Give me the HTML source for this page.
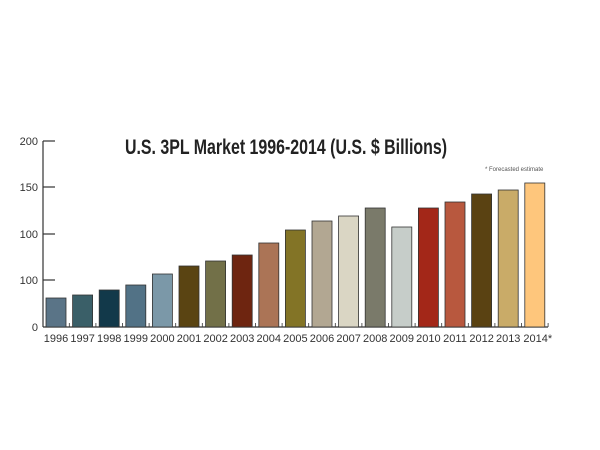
<!DOCTYPE html>
<html><head><style>body{margin:0;background:#fff}svg{display:block}</style></head><body>
<svg width="600" height="450" xmlns="http://www.w3.org/2000/svg" font-family="'Liberation Sans Narrow','Liberation Sans',sans-serif">
<text x="286" y="154" text-anchor="middle" font-size="21" font-weight="bold" fill="#222" textLength="322" lengthAdjust="spacingAndGlyphs">U.S. 3PL Market 1996-2014 (U.S. $ Billions)</text>
<text x="485" y="171" font-size="6" fill="#555">* Forecasted estimate</text>
<g stroke="#333" stroke-width="1.2">
<line x1="43" y1="141" x2="43" y2="327"/>
<line x1="43" y1="327" x2="548" y2="327"/>
<line x1="43" y1="141" x2="55" y2="141"/>
<line x1="43" y1="187" x2="55" y2="187"/>
<line x1="43" y1="234" x2="55" y2="234"/>
<line x1="43" y1="280" x2="55" y2="280"/>
</g>
<g font-size="11" fill="#333" text-anchor="end">
<text x="38" y="145">200</text><text x="38" y="191">150</text><text x="38" y="238">100</text><text x="38" y="284">100</text><text x="38" y="331">0</text>
</g>
<g stroke="#333" stroke-width="0.8" id="bars"></g>
<g id="labels" font-size="11" fill="#333" text-anchor="middle"></g>
<script>
var tops=[298,295,290,285,274,266,261,255,243,230,221,216,208,227,208,202,194,190,183];
var cols=["#5a7487","#3a5f68","#12394a","#527286","#7b98a8","#5a4412","#727048","#6e2510","#ab7456","#837426","#b2a792","#dad6c4","#7a7a6a","#c6cdc9","#a32718","#b8583e","#5a4212","#c9ab68","#fec67c"];
var b=document.getElementById('bars'),l=document.getElementById('labels'),ns="http://www.w3.org/2000/svg";
for(var i=0;i<19;i++){var x=46+i*26.6;
var r=document.createElementNS(ns,'rect');r.setAttribute('x',x);r.setAttribute('y',tops[i]);r.setAttribute('width',20);r.setAttribute('height',327-tops[i]);r.setAttribute('fill',cols[i]);b.appendChild(r);
var t=document.createElementNS(ns,'line');t.setAttribute('x1',x+23.3);t.setAttribute('x2',x+23.3);t.setAttribute('y1',323);t.setAttribute('y2',327);b.appendChild(t);
var tx=document.createElementNS(ns,'text');tx.setAttribute('x',x+10+(i==18?3:0));tx.setAttribute('y',342);tx.textContent=(1996+i)+(i==18?'*':'');l.appendChild(tx);}
</script>
</svg>
</body></html>
